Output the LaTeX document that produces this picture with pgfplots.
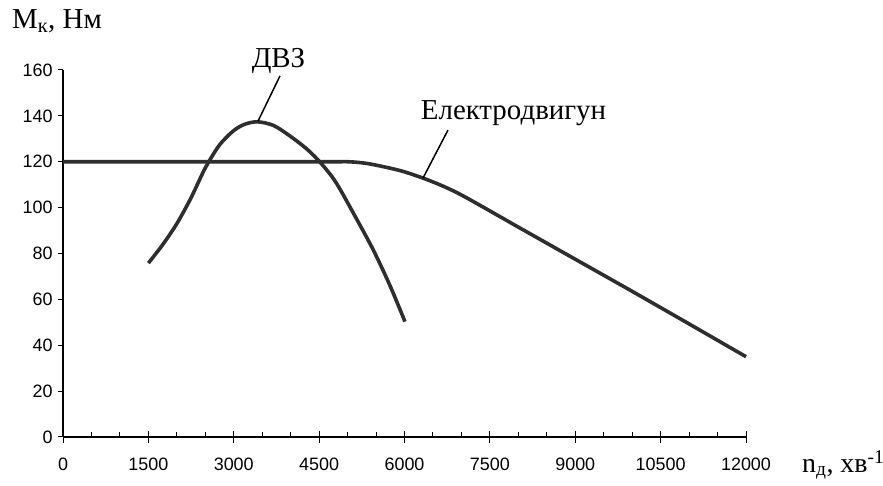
\documentclass[border=0pt]{standalone}
\usepackage{fontspec}
\setmainfont{Liberation Serif}
\newfontfamily\ticksf{Liberation Sans}
\usepackage{pgfplots}
\pgfplotsset{compat=1.18}
\definecolor{curve}{gray}{0.18}
\begin{document}
\begin{tikzpicture}[x=1bp,y=1bp]
\useasboundingbox (0,0) rectangle (883,486);
\pgfplotsset{
  common/.style={
    at={(63bp,49bp)}, anchor=south west,
    scale only axis, width=683bp, height=367bp,
    xmin=0, xmax=12000, ymin=0, ymax=160,
    clip=false, scaled x ticks=false,
  }
}
\begin{axis}[
  common,
  axis lines=left, axis line style={-, line width=1.3bp},
  xtick={0,1500,...,12000}, ytick={0,20,...,160},
  minor x tick num=2,
  xtick align=inside, ytick align=outside,
  major tick length=5bp, minor tick length=5bp,
  tick style={line width=1bp, black},
  /pgf/number format/assume math mode=true,
  /pgf/number format/1000 sep={},
  tick label style={font=\ticksf\fontsize{18}{20}\selectfont},
  xticklabel style={yshift=-17bp},
  yticklabel style={xshift=-2bp},
]
\addplot[curve, line width=3.6bp, smooth, tension=0.5] coordinates {
  (0,120) (4500,120) (5000,120) (5300,119.4) (5600,118) (6000,115.6)
  (6500,111.2) (7000,105.5) (8000,91.5) (9000,77.5) (10000,63.5)
  (11000,49.3) (12000,35)
};
\addplot[curve, line width=3.6bp, smooth, tension=0.5] coordinates {
  (1500,75.8) (1750,83.8) (2000,93) (2250,104.3) (2500,117.3)
  (2750,127.3) (3000,133.6) (3200,136.4) (3420,137.4) (3700,135.8)
  (4000,131) (4300,125.2) (4545,119) (4800,110.8) (5159,95)
  (5452,81.5) (5745,66) (6008,50.3)
};
\draw[line width=1.5bp] (axis cs:3812,157.4) -- (axis cs:3426,137.7);
\draw[line width=1.5bp] (axis cs:6764,133.8) -- (axis cs:6325,112.9);
\node[font=\fontsize{29}{32}\selectfont, inner sep=0pt] at (axis cs:3786,163.9) {ДВЗ};
\node[font=\fontsize{29}{32}\selectfont, inner sep=0pt, anchor=base] at (axis cs:7915,138.6) {Електродвигун};
\node[font=\fontsize{29}{32}\selectfont, inner sep=0pt, anchor=base west] at (axis cs:-896,177.9) {M\textsubscript{к}, Нм};
\node[font=\fontsize{28}{32}\selectfont, inner sep=0pt, anchor=base west] at (axis cs:12983,-15.3) {n\textsubscript{д}, хв\textsuperscript{-1}};
\end{axis}
\begin{axis}[
  common,
  axis x line=bottom, axis y line=none,
  axis line style={draw=none},
  xtick={0,1500,...,12000}, ytick=\empty,
  xticklabels={},
  xtick align=center, major tick length=12bp,
  tick style={line width=1bp, black},
]
\end{axis}
\end{tikzpicture}
\end{document}
